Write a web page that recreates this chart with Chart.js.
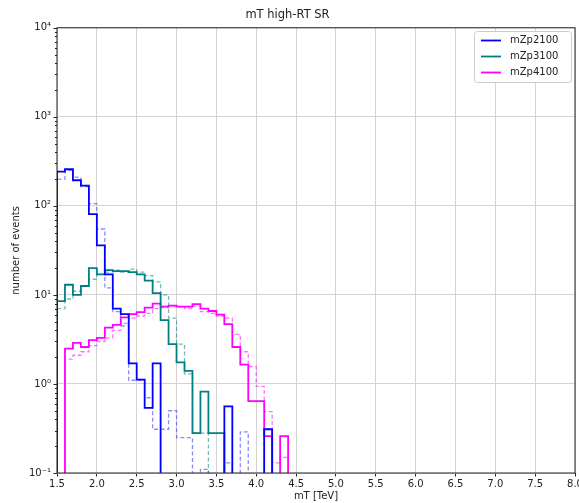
<!DOCTYPE html>
<html><head><meta charset="utf-8">
<script src="https://cdn.jsdelivr.net/npm/chart.js@4"></script>
<style>html,body{margin:0;padding:0;background:#fff;overflow:hidden}#wrap{width:579px;height:503px;position:relative}</style>
</head><body><div id="wrap"><canvas id="c"></canvas></div>
<script>
// ---- data ----
const binEdges = [1.5,1.6,1.7,1.8,1.9,2.0,2.1,2.2,2.3,2.4,2.5,2.6,2.7,2.8,2.9,3.0,3.1,3.2,3.3,3.4,3.5,3.6,3.7,3.8,3.9,4.0,4.1,4.2,4.3,4.4,4.5];
const seriesNames = ['mZp2100','mZp3100','mZp4100'];
const mZp2100 = [243,258,194,169,81,36,17,7,6.1,1.7,1.12,0.54,1.7,0,0,0,0,0,0,0,0,0.56,0,0,0,0,0.31,0,0,0];
const mZp2100Dashed = [200,250,210,165,106,55,12,6.5,4.5,1.1,1.1,0.7,0.31,0.31,0.5,0.25,0.25,0,0.11,0,0,0.13,0,0.29,0,0,0.31,0,0,0];
const mZp3100 = [8.5,13,10,12.6,20,17,19,18.5,18.5,18,17,14.5,10.5,5.2,2.8,1.75,1.4,0.28,0.82,0.28,0.28,0,0,0,0,0,0,0,0,0];
const mZp3100Dashed = [7,9,11,12.5,15,17,18,19,18,19.5,18,16.5,14,10,5.5,2.8,1.3,0.28,0.28,0,0,0,0,0,0,0,0,0,0,0];
const mZp4100 = [0,2.5,2.9,2.6,3.1,3.3,4.3,4.6,5.6,6.1,6.4,7.2,8.0,7.4,7.6,7.4,7.4,7.9,7.0,6.6,6.0,4.7,2.6,1.65,0.64,0.64,0.26,0,0.26,0];
const mZp4100Dashed = [0,1.9,2.1,2.3,2.7,3.0,3.3,4.0,4.8,5.5,5.8,6.2,7.0,7.2,7.5,7.4,7.0,7.5,6.5,6.2,5.8,5.5,3.6,2.3,1.57,0.94,0.49,0.13,0.15,0];
const xTickValues = [1.5,2.0,2.5,3.0,3.5,4.0,4.5,5.0,5.5,6.0,6.5,7.0,7.5,8.0];
const xTickLabels = ['1.5','2.0','2.5','3.0','3.5','4.0','4.5','5.0','5.5','6.0','6.5','7.0','7.5','8.0'];
const yTickValues = [0.1,1,10,100,1000,10000];
const yTickLabels = ['10\u207B\u00B9','10\u2070','10\u00B9','10\u00B2','10\u00B3','10\u2074'];

const colors = ['#0000ff','#008080','#ff00ff'];
const dashColors = ['rgba(60,60,255,0.6)','rgba(0,128,128,0.55)','rgba(255,0,255,0.55)'];
const FLOOR = 0.01; // below the visible range; used for empty bins
const FONT = 'DejaVu Sans';

function histPoints(vals){
  const pts = [{x: binEdges[0], y: FLOOR}];
  vals.forEach((v,i)=>pts.push({x: binEdges[i], y: v>0 ? v : FLOOR}));
  pts.push({x: binEdges[vals.length], y: FLOOR});
  return pts;
}
const solid = [mZp2100, mZp3100, mZp4100];
const dashed = [mZp2100Dashed, mZp3100Dashed, mZp4100Dashed];
const datasets = [];
for (let i=0;i<3;i++){
  datasets.push({label: seriesNames[i], data: histPoints(solid[i]), borderColor: colors[i], borderWidth: 1.8, stepped: 'before', pointRadius: 0, fill: false});
}
for (let i=0;i<3;i++){
  datasets.push({label: seriesNames[i]+' (dashed)', data: histPoints(dashed[i]), borderColor: dashColors[i], borderWidth: 1.3, borderDash: [4,2.5], stepped: 'before', pointRadius: 0, fill: false});
}

const framePlugin = {
  id: 'frame',
  afterDatasetsDraw(chart){
    const {ctx, chartArea: a, scales} = chart;
    ctx.save();
    ctx.strokeStyle = '#222'; ctx.lineWidth = 1;
    ctx.strokeRect(a.left, a.top, a.right - a.left, a.bottom - a.top);
    // y ticks (major longer than minor)
    const ys = scales.y;
    ys.ticks.forEach(t=>{
      const y = Math.round(ys.getPixelForValue(t.value)) + 0.5;
      const len = t.major ? 3.5 : 2;
      ctx.beginPath(); ctx.moveTo(a.left - len, y); ctx.lineTo(a.left, y); ctx.stroke();
    });
    ctx.restore();
  },
  afterDraw(chart){
    const {ctx} = chart;
    ctx.save();
    const bx = 474.5, by = 31.5, bw = 97, bh = 51;
    ctx.fillStyle = 'rgba(255,255,255,0.85)';
    ctx.strokeStyle = '#cccccc'; ctx.lineWidth = 1;
    ctx.beginPath(); ctx.roundRect(bx, by, bw, bh, 3); ctx.fill(); ctx.stroke();
    ctx.font = '10px "' + FONT + '"'; ctx.textBaseline = 'middle'; ctx.textAlign = 'left';
    for (let i=0;i<3;i++){
      const y = 40.5 + i*16;
      ctx.strokeStyle = colors[i]; ctx.lineWidth = 1.8;
      ctx.beginPath(); ctx.moveTo(481, y); ctx.lineTo(501, y); ctx.stroke();
      ctx.fillStyle = '#222';
      ctx.fillText(seriesNames[i], 510, y);
    }
    ctx.restore();
  }
};

new Chart(document.getElementById('c'), {
  type: 'line',
  data: {datasets},
  plugins: [framePlugin],
  options: {
    responsive: true, maintainAspectRatio: false, animation: false,
    layout: {padding: {left: 0, right: 4, top: 0, bottom: 0}},
    plugins: {
      legend: {display: false},
      tooltip: {enabled: false},
      title: {display: true, text: 'mT high-RT SR', color: '#222', font: {family: FONT, size: 11.5, weight: 'normal'}, padding: {top: 8, bottom: 6}}
    },
    scales: {
      x: {
        type: 'linear', min: 1.5, max: 8.0,
        afterBuildTicks: s => { s.ticks = xTickValues.map(v=>({value: v})); },
        afterFit: s => { s.height = 30; s.paddingLeft = 0; s.paddingRight = 0; },
        ticks: {autoSkip: false, maxRotation: 0, color: '#222', padding: 2, font: {family: FONT, size: 10},
          callback: v => { const i = xTickValues.indexOf(v); return i >= 0 ? xTickLabels[i] : ''; }},
        grid: {color: '#d3d3d3', lineWidth: 1, drawTicks: true, tickLength: 3.5, tickColor: '#222'},
        border: {display: false},
        title: {display: true, text: 'mT [TeV]', color: '#222', font: {family: FONT, size: 10}, padding: {top: 0, bottom: 1}}
      },
      y: {
        type: 'logarithmic', min: 0.1, max: 10000,
        afterBuildTicks: s => {
          const t = [];
          yTickValues.forEach((d, k) => {
            t.push({value: d, major: true});
            if (k < yTickValues.length - 1) for (let m = 2; m <= 9; m++) t.push({value: d*m, major: false});
          });
          s.ticks = t;
        },
        afterFit: s => { s.width = 57; s.paddingTop = 0; s.paddingBottom = 0; },
        ticks: {autoSkip: false, color: '#222', padding: 6, font: {family: FONT, size: 10},
          callback: v => { const i = yTickValues.findIndex(d => Math.abs(d - v) < d*1e-6); return i >= 0 ? yTickLabels[i] : ''; }},
        grid: {color: c => (c.tick && c.tick.major) ? '#d3d3d3' : 'rgba(0,0,0,0)', lineWidth: 1, drawTicks: false},
        border: {display: false},
        title: {display: true, text: 'number of events', color: '#222', font: {family: FONT, size: 10}, padding: {top: 10, bottom: 0}}
      }
    }
  }
});
</script></body></html>
